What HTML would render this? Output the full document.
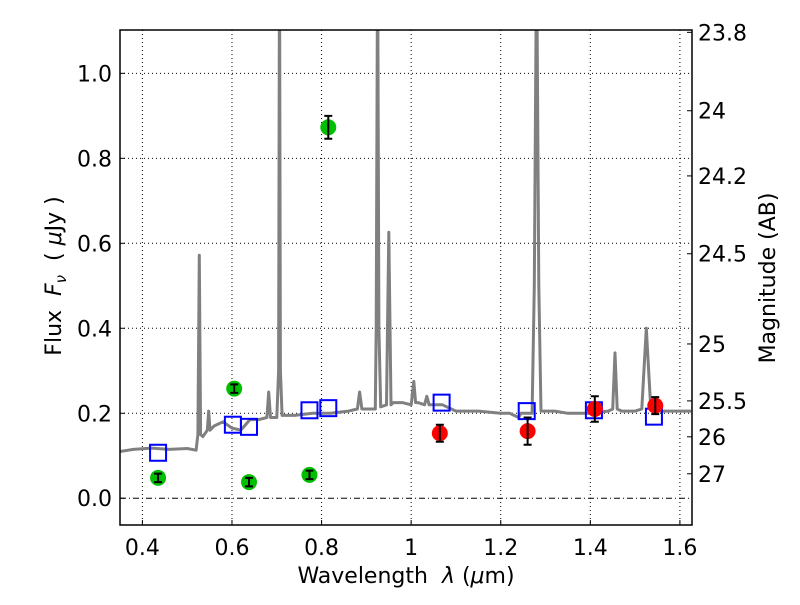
<!DOCTYPE html>
<html><head><meta charset="utf-8"><style>
body{margin:0;background:#fff;}
svg text{font-family:"DejaVu Sans","Liberation Sans",sans-serif;fill:#000;}
</style></head><body>
<svg id="c" width="800" height="600" viewBox="0 0 800 600">
<rect width="800" height="600" fill="#fff"/>
<defs><clipPath id="clip"><rect x="120" y="30" width="572" height="495"/></clipPath></defs>
<g id="grid"></g><g id="spec"></g><g id="marks"></g><g id="axes"></g>
</svg>
<script>
const xTicks=[0.4,0.6,0.8,1.0,1.2,1.4,1.6];
const xTickLabels=["0.4","0.6","0.8","1","1.2","1.4","1.6"];
const yTicks=[0,0.2,0.4,0.6,0.8,1.0];
const yTickLabels=["0.0","0.2","0.4","0.6","0.8","1.0"];
const magTicks=[23.8,24,24.2,24.5,25,25.5,26,27];
const magTickLabels=["23.8","24","24.2","24.5","25","25.5","26","27"];
const specLam=[0.35,0.38,0.42,0.46,0.5,0.52,0.524,0.527,0.530,0.535,0.545,0.548,0.551,0.56,0.58,0.60,0.62,0.64,0.66,0.678,0.682,0.686,0.70,0.704,0.706,0.708,0.712,0.74,0.78,0.82,0.86,0.88,0.885,0.89,0.92,0.922,0.925,0.928,0.932,0.945,0.95,0.955,0.96,0.98,1.0,1.006,1.01,1.015,1.03,1.035,1.04,1.07,1.1,1.15,1.2,1.22,1.24,1.245,1.25,1.27,1.275,1.28,1.285,1.29,1.32,1.35,1.40,1.44,1.45,1.455,1.46,1.47,1.5,1.515,1.525,1.535,1.56,1.625];
const specFlux=[0.11,0.115,0.118,0.115,0.117,0.113,0.15,0.572,0.15,0.145,0.16,0.205,0.16,0.17,0.18,0.165,0.16,0.185,0.185,0.19,0.25,0.19,0.19,0.3,1.3,0.3,0.195,0.195,0.2,0.2,0.205,0.21,0.25,0.21,0.21,0.4,1.3,0.4,0.215,0.22,0.626,0.22,0.225,0.225,0.22,0.275,0.225,0.225,0.22,0.24,0.22,0.22,0.205,0.205,0.2,0.2,0.19,0.2,0.2,0.2,0.5,1.3,0.5,0.205,0.205,0.2,0.2,0.205,0.21,0.342,0.21,0.205,0.205,0.21,0.40,0.21,0.205,0.205];
const greenLam=[0.435,0.605,0.638,0.773,0.815];
const greenFlux=[0.048,0.258,0.038,0.055,0.873];
const greenErr=[0.01,0.01,0.01,0.01,0.027];
const blueLam=[0.435,0.602,0.638,0.773,0.815,1.068,1.258,1.408,1.542];
const blueFlux=[0.107,0.173,0.168,0.207,0.212,0.225,0.205,0.207,0.192];
const redLam=[1.064,1.26,1.41,1.545];
const redFlux=[0.153,0.158,0.21,0.218];
const redErr=[0.02,0.032,0.03,0.02];

const L=120,R=692,T=30,B=525,X0=0.35,X1=1.627,Y0=-0.063,Y1=1.102;
const xs=v=>L+(v-X0)/(X1-X0)*(R-L);
const ys=v=>B-(v-Y0)/(Y1-Y0)*(B-T);
const NS="http://www.w3.org/2000/svg";
function mk(tag,attrs,parent){const e=document.createElementNS(NS,tag);for(const k in attrs)e.setAttribute(k,attrs[k]);document.getElementById(parent).appendChild(e);return e;}
xTicks.forEach((t,i)=>{
 const g=mk('line',{x1:xs(t),x2:xs(t),y1:T,y2:B,stroke:'#000','stroke-width':1,'stroke-dasharray':'1,3'},'grid');
 
 
 const tk=mk('line',{x1:xs(t),x2:xs(t),y1:B,y2:B-5,stroke:'#000'},'axes');
 
 
 const tx=mk('text',{x:xs(t),y:B+30,'font-size':22,'text-anchor':'middle'},'axes');tx.textContent=xTickLabels[i];
 
 
});
yTicks.forEach((t,i)=>{
 const g=mk('line',{x1:L,x2:R,y1:ys(t),y2:ys(t),stroke:'#000','stroke-width':1,'stroke-dasharray':t===0?'6,3,1,3':'1,3'},'grid');
 
 
 const tk=mk('line',{x1:L,x2:L+5,y1:ys(t),y2:ys(t),stroke:'#000'},'axes');
 
 
 const tx=mk('text',{x:L-8,y:ys(t)+8,'font-size':22,'text-anchor':'end'},'axes');tx.textContent=yTickLabels[i];
 
 
});
magTicks.forEach((m,i)=>{
 const y=ys(Math.pow(10,(23.9-m)/2.5));
 const tk=mk('line',{x1:R-5,x2:R,y1:y,y2:y,stroke:'#000'},'axes');
 
 
 const tx=mk('text',{x:R+6,y:y+8,'font-size':22},'axes');tx.textContent=magTickLabels[i];
 
 
});
const d=specLam.map((l,i)=>(i?'L':'M')+xs(l).toFixed(1)+','+ys(specFlux[i]).toFixed(1)).join('');
const sp=mk('path',{d:d,fill:'none',stroke:'#808080','stroke-width':3,'stroke-linejoin':'round','clip-path':'url(#clip)'},'spec');


blueLam.forEach((l,i)=>{
 const s=mk('rect',{x:xs(l)-8,y:ys(blueFlux[i])-8,width:16,height:16,fill:'none',stroke:'#0000ff','stroke-width':2},'marks');
 
 
});
function pt(l,f,e,col,name){
 const c=mk('circle',{cx:xs(l),cy:ys(f),r:8,fill:col},'marks');
 
 
 const x=xs(l),y1=ys(f+e),y2=ys(f-e);
 const eb=mk('path',{d:`M${x},${y1}V${y2}M${x-4},${y1}H${x+4}M${x-4},${y2}H${x+4}`,stroke:'#000','stroke-width':2,fill:'none'},'marks');
 
 
}
greenLam.forEach((l,i)=>pt(l,greenFlux[i],greenErr[i],'#00bf00','green-photometry-point'));
redLam.forEach((l,i)=>pt(l,redFlux[i],redErr[i],'#ff0000','red-photometry-point'));
const fr=mk('rect',{x:L,y:T,width:R-L,height:B-T,fill:'none',stroke:'#000','stroke-width':1.5},'axes');


const xl=mk('text',{x:406,y:583,'font-size':22,'text-anchor':'middle'},'axes');
xl.innerHTML='Wavelength&#160;&#160;<tspan font-style="italic">λ</tspan> (<tspan font-style="italic">μ</tspan>m)';


const yl=mk('text',{x:0,y:0,'font-size':22,'text-anchor':'middle',transform:'translate(61,276) rotate(-90)'},'axes');
yl.innerHTML='Flux&#160;&#160;<tspan font-style="italic">F</tspan><tspan font-style="italic" font-size="15" dy="5">ν</tspan><tspan dy="-5">&#160;&#160;( <tspan font-style="italic">μ</tspan>Jy )</tspan>';


const rl=mk('text',{x:0,y:0,'font-size':22,'text-anchor':'middle',transform:'translate(775,278) rotate(-90)'},'axes');
rl.textContent='Magnitude (AB)';


</script>
</body></html>
